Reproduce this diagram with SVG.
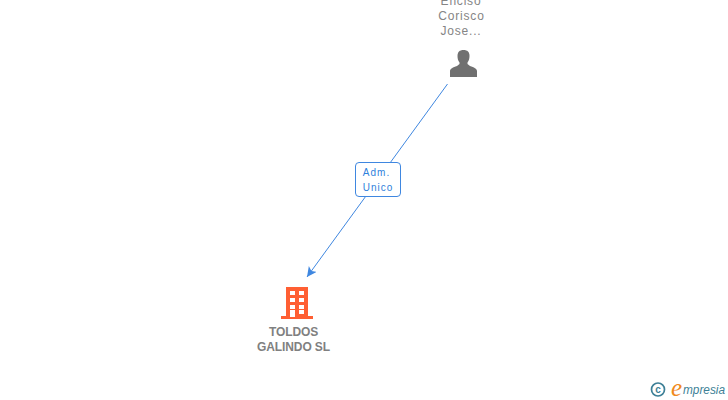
<svg xmlns="http://www.w3.org/2000/svg" width="728" height="400" viewBox="0 0 728 400">
<style>
text{font-family:"Liberation Sans",Arial,sans-serif}
.n{font-size:12px;fill:#858585;letter-spacing:.8px;text-anchor:middle}
.b{font-size:12px;font-weight:bold;fill:#808080;letter-spacing:-.1px;text-anchor:middle}
.e{font-size:10px;fill:#2f7fdc;letter-spacing:1px;text-anchor:middle}
</style>
<defs><marker id="a" markerUnits="userSpaceOnUse" markerWidth="12" markerHeight="12" refX="10" refY="5" orient="auto"><path d="M0 0L10 5L0 10L2.500 5Z" fill="#3f87e0"/></marker></defs>
<rect width="728" height="400" fill="#fff"/>
<g id="connectors">
<path d="M447.500 84L307 277" fill="none" stroke="#3f87e0" stroke-width="1" marker-end="url(#a)"/>
</g>
<g id="person">
<text class="n" x="461" y="5">Enciso</text>
<text class="n" x="461.500" y="20">Corisco</text>
<text class="n" x="461" y="35">Jose...</text>
<path d="M450 77V71C450 68.500 453 67.500 457 66L459.500 64V62.500C458 60.500 457.500 58.500 457.500 56C457.500 52 459.500 50 463.500 50C467.500 50 469.500 52 469.500 56C469.500 58.500 469 60.500 467.500 62.500V64L470 66C474 67.500 477 68.500 477 71V77Z" fill="#707070"/>
</g>
<g id="label">
<rect x="355.500" y="162.500" width="45" height="34" rx="3.500" fill="#fff" stroke="#3f87e0"/>
<text class="e" x="376.500" y="176">Adm.</text>
<text class="e" x="378" y="191">Unico</text>
</g>
<g id="company">
<path d="M286 287H308V316H313V319H281V316H286Z" fill="#ff5f33"/>
<g fill="#fff"><rect x="290" y="291" width="5" height="4"/><rect x="299" y="291" width="5" height="4"/><rect x="290" y="298" width="5" height="4"/><rect x="299" y="298" width="5" height="4"/><rect x="290" y="305" width="5" height="4"/><rect x="299" y="305" width="5" height="4"/><rect x="290" y="310" width="5" height="7"/><rect x="299" y="310" width="5" height="4"/></g>
<text class="b" x="293.500" y="336">TOLDOS</text>
<text class="b" x="293.500" y="351">GALINDO SL</text>
</g>
<g id="logo">
<circle cx="658" cy="389.500" r="6.500" fill="none" stroke="#3d7f96" stroke-width="1.700"/>
<text x="658" y="393" font-size="10" font-weight="bold" fill="#3d7f96" text-anchor="middle">c</text>
<text x="671" y="396" font-size="25" font-style="italic" fill="#f08a1d" style="font-family:'Liberation Serif',serif">e</text>
<text x="683" y="394" font-size="12" font-style="italic" fill="#3d7f96" textLength="42" lengthAdjust="spacingAndGlyphs">mpresia</text>
</g>
</svg>
